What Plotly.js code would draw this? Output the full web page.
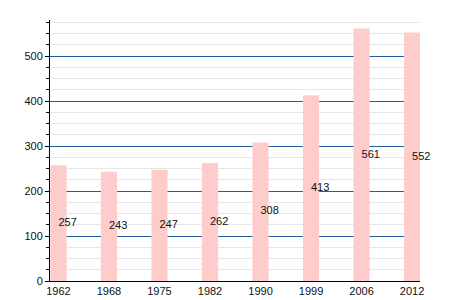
<!DOCTYPE html>
<html>
<head>
<meta charset="utf-8">
<script src="https://cdn.plot.ly/plotly-3.0.1.min.js"></script>
<style>html,body{margin:0;padding:0;background:#fff;}#chart{width:450px;height:300px;}</style>
</head>
<body>
<div id="chart"></div>
<script>
const years = ["1962", "1968", "1975", "1982", "1990", "1999", "2006", "2012"];
const population = [257, 243, 247, 262, 308, 413, 561, 552];

const barTrace = {
  type: "bar",
  x: years,
  y: population,
  width: 0.32,
  marker: {color: "#ffcccc", line: {width: 0}},
  hoverinfo: "none"
};

const labelTrace = {
  type: "scatter",
  mode: "text",
  x: years,
  y: population.map(v => v / 2),
  text: population.map(v => String(v)),
  textposition: "middle right",
  textfont: {family: "Liberation Sans, Arial, sans-serif", size: 11, color: "#111"},
  hoverinfo: "none",
  cliponaxis: false
};

const layout = {
  width: 450,
  height: 300,
  margin: {l: 50, r: 30, t: 20, b: 19, pad: 0},
  paper_bgcolor: "#ffffff",
  plot_bgcolor: "#ffffff",
  showlegend: false,
  font: {family: "Liberation Sans, Arial, sans-serif", size: 11, color: "#111"},
  xaxis: {
    type: "category",
    range: [-0.168, 7.158],
    showgrid: false,
    zeroline: false,
    showline: true,
    linecolor: "#000",
    linewidth: 1,
    ticks: "",
    tickfont: {size: 11, color: "#111"},
    fixedrange: true
  },
  yaxis: {
    range: [0, 580],
    dtick: 100,
    tick0: 0,
    showgrid: true,
    gridcolor: "#1f5f9e",
    gridwidth: 1,
    zeroline: false,
    showline: true,
    linecolor: "#000",
    linewidth: 1,
    ticks: "outside",
    ticklen: 4,
    tickcolor: "#000",
    tickfont: {size: 11, color: "#111"},
    minor: {dtick: 25, tick0: 0, showgrid: true, gridcolor: "#e6e6e6", gridwidth: 1, ticks: "outside", ticklen: 3, tickcolor: "#000"},
    fixedrange: true
  }
};

Plotly.newPlot("chart", [barTrace, labelTrace], layout, {displayModeBar: false, staticPlot: true});
</script>
</body>
</html>
